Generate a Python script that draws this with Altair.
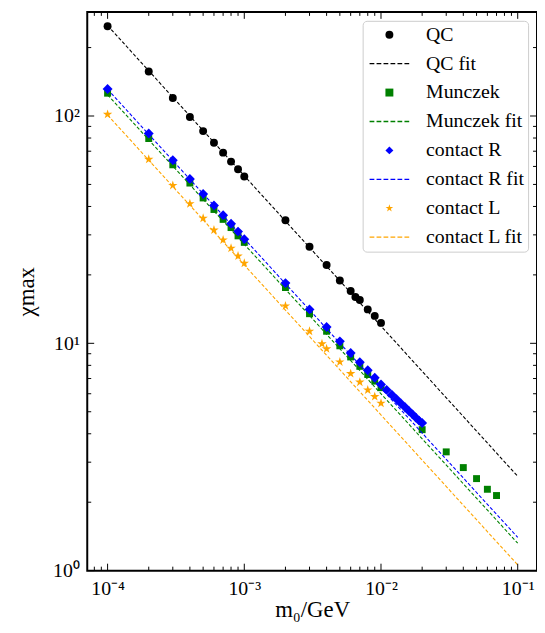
import altair as alt
import pandas as pd

# ---------------- data ----------------
qc_x = [1e-4, 2e-4, 3e-4, 4e-4, 5e-4, 6e-4, 7e-4, 8e-4, 9e-4, 1e-3,
        2e-3, 3e-3, 4e-3, 5e-3, 6e-3, 6.5e-3, 7e-3, 8e-3, 9e-3, 1e-2]
qc_y = [248, 157, 120, 99, 85.8, 76.2, 69, 63, 58.3, 54.2,
        34.8, 26.6, 22.1, 18.9, 17.0, 16.0, 15.5, 14.1, 13.2, 12.3]

mu_x = [1e-4, 2e-4, 3e-4, 4e-4, 5e-4, 6e-4, 7e-4, 8e-4, 9e-4, 1e-3,
        2e-3, 3e-3, 4e-3, 5e-3, 6e-3, 7e-3, 8e-3, 9e-3, 1e-2,
        2e-2, 3e-2, 4e-2, 5e-2, 6e-2, 7e-2]
mu_y = [126, 79.6, 61, 50.7, 43.6, 38.8, 35.1, 32.3, 29.7, 27.8,
        17.6, 13.5, 11.3, 9.75, 8.71, 7.92, 7.29, 6.82, 6.38,
        4.17, 3.33, 2.84, 2.54, 2.28, 2.14]

cr_x = [1e-4, 2e-4, 3e-4, 4e-4, 5e-4, 6e-4, 7e-4, 8e-4, 9e-4, 1e-3,
        2e-3, 3e-3, 4e-3, 5e-3, 6e-3, 7e-3, 8e-3, 9e-3, 1e-2,
        1.1e-2, 1.2e-2, 1.3e-2, 1.4e-2, 1.5e-2, 1.6e-2, 1.7e-2, 1.8e-2, 1.9e-2, 2e-2]
cr_y = [131.5, 83.7, 63.9, 52.8, 45.4, 40.4, 36.6, 33.6, 31.0, 28.7,
        18.4, 14.1, 11.8, 10.2, 9.06, 8.25, 7.61, 7.05, 6.59,
        6.24, 5.94, 5.68, 5.44, 5.23, 5.04, 4.87, 4.71, 4.57, 4.46]

cl_x = [1e-4, 2e-4, 3e-4, 4e-4, 5e-4, 6e-4, 7e-4, 8e-4, 9e-4, 1e-3,
        2e-3, 3e-3, 3.7e-3, 4e-3, 5e-3, 6e-3, 7e-3, 8e-3, 9e-3, 1e-2]
cl_y = [101.7, 64.5, 49.5, 41.1, 35.5, 31.5, 28.5, 26.2, 24.2, 22.5,
        14.6, 11.3, 9.95, 9.46, 8.28, 7.36, 6.75, 6.23, 5.83, 5.45]

# fitted straight lines (log-log), end points
fit_x = [1e-4, 1e-1]
qc_fit_y = [250, 2.6]
mu_fit_y = [124, 1.32]
cr_fit_y = [131, 1.40]
cl_fit_y = [101, 1.06]

series_order = ["QC", "QC fit", "Munczek", "Munczek fit",
                "contact R", "contact R fit", "contact L", "contact L fit"]
colors = ["#000000", "#000000", "#008000", "#008000",
          "#0000ff", "#0000ff", "#ffa500", "#ffa500"]

major_x = [1e-4, 1e-3, 1e-2, 1e-1]
minor_x = [8e-5, 9e-5, 2e-4, 3e-4, 4e-4, 5e-4, 6e-4, 7e-4, 8e-4, 9e-4,
           2e-3, 3e-3, 4e-3, 5e-3, 6e-3, 7e-3, 8e-3, 9e-3,
           2e-2, 3e-2, 4e-2, 5e-2, 6e-2, 7e-2, 8e-2, 9e-2]
major_y = [1, 10, 100]
minor_y = [2, 3, 4, 5, 6, 7, 8, 9, 20, 30, 40, 50, 60, 70, 80, 90, 200]

# ---------------- tables ----------------
qc_df = pd.DataFrame({"m0": qc_x, "chi": qc_y, "series": "QC"})
mu_df = pd.DataFrame({"m0": mu_x, "chi": mu_y, "series": "Munczek"})
cr_df = pd.DataFrame({"m0": cr_x, "chi": cr_y, "series": "contact R"})
cl_df = pd.DataFrame({"m0": cl_x, "chi": cl_y, "series": "contact L"})

fits = pd.concat([
    pd.DataFrame({"m0": fit_x, "chi": qc_fit_y, "series": "QC fit"}),
    pd.DataFrame({"m0": fit_x, "chi": mu_fit_y, "series": "Munczek fit"}),
    pd.DataFrame({"m0": fit_x, "chi": cr_fit_y, "series": "contact R fit"}),
    pd.DataFrame({"m0": fit_x, "chi": cl_fit_y, "series": "contact L fit"}),
], ignore_index=True)

xmaj = pd.DataFrame({"v": major_x})
xmin = pd.DataFrame({"v": minor_x})
ymaj = pd.DataFrame({"v": major_y})
ymin = pd.DataFrame({"v": minor_y})

W, H = 454, 564
FONT = "Liberation Serif"
# legend sample of a dashed line, drawn as six thin filled bars
DASH = ("M-5,-0.17H-3.8V0.17H-5Z M-3.24,-0.17H-2.04V0.17H-3.24Z "
        "M-1.48,-0.17H-0.28V0.17H-1.48Z M0.28,-0.17H1.48V0.17H0.28Z "
        "M2.04,-0.17H3.24V0.17H2.04Z M3.8,-0.17H5V0.17H3.8Z")
STAR = ("M0,-1L0.2245,-0.309L0.951,-0.309L0.363,0.118L0.588,0.809L0,0.382"
        "L-0.588,0.809L-0.363,0.118L-0.951,-0.309L-0.2245,-0.309Z")
shapes = ["circle", DASH, "square", DASH, "diamond", DASH, STAR, DASH]

xscale = alt.Scale(type="log", domain=[7.1e-5, 0.1384], nice=False)
yscale = alt.Scale(type="log", domain=[1, 287], nice=False)

label_expr = ("'10' + (datum.value < 1 ? '⁻' : '') + "
              "['⁰','¹','²','³','⁴','⁵','⁶','⁷','⁸','⁹'][abs(round(log(datum.value)/LN10))]")

x_axis = alt.Axis(orient="bottom", values=major_x, ticks=False, domain=False,
                  grid=False, labelExpr=label_expr, labelFont=FONT,
                  labelFontSize=20, labelColor="black", labelPadding=8,
                  labelFlush=False,
                  title="m₀/GeV", titleFont=FONT, titleFontSize=23,
                  titleFontWeight="normal", titleColor="black", titlePadding=0)
y_axis = alt.Axis(orient="left", values=major_y, ticks=False, domain=False,
                  grid=False, labelExpr=label_expr, labelFont=FONT,
                  labelFontSize=20, labelColor="black", labelPadding=8,
                  labelFlush=False,
                  title="χmax", titleFont=FONT, titleFontSize=23,
                  titleFontWeight="normal", titleColor="black", titlePadding=14)

legend = alt.Legend(title=None, orient="top-right", offset=9, padding=4,
                    symbolOffset=13, labelOffset=27, rowPadding=9.2,
                    labelAlign="left",
                    labelFont=FONT, labelFontSize=20, labelColor="black",
                    labelLimit=300, strokeColor="#cccccc", cornerRadius=4,
                    fillColor="white", symbolStrokeWidth=0, symbolSize=64)

color_scale = alt.Scale(domain=series_order, range=colors)
shape_scale = alt.Scale(domain=series_order, range=shapes)


def pts_layer(df, size):
    return alt.Chart(df).mark_point(filled=True, opacity=1, size=size).encode(
        x=alt.X("m0:Q", scale=xscale, axis=x_axis),
        y=alt.Y("chi:Q", scale=yscale, axis=y_axis),
        color=alt.Color("series:N", scale=color_scale, legend=legend),
        shape=alt.Shape("series:N", scale=shape_scale, legend=legend),
    )


lines = alt.Chart(fits).mark_line(strokeDash=[3.5, 2], strokeWidth=1.1).encode(
    x=alt.X("m0:Q", scale=xscale, axis=x_axis),
    y=alt.Y("chi:Q", scale=yscale, axis=y_axis),
    color=alt.Color("series:N", scale=color_scale, legend=legend),
    detail="series:N",
)


def xticks(df, y0, y1):
    return alt.Chart(df).mark_rule(color="black", strokeWidth=1).encode(
        x=alt.X("v:Q", scale=xscale, axis=x_axis),
        y=alt.value(y0), y2=alt.value(y1))


def yticks(df, x0, x1):
    return alt.Chart(df).mark_rule(color="black", strokeWidth=1).encode(
        y=alt.Y("v:Q", scale=yscale, axis=y_axis),
        x=alt.value(x0), x2=alt.value(x1))


tick_layers = [
    xticks(xmaj, H, H - 7), xticks(xmin, H, H - 4),
    xticks(xmaj, 0, 7), xticks(xmin, 0, 4),
    yticks(ymaj, 0, 7), yticks(ymin, 0, 4),
    yticks(ymaj, W, W - 7), yticks(ymin, W, W - 4),
]

chart = alt.layer(
    pts_layer(qc_df, 64),
    pts_layer(mu_df, 49),
    pts_layer(cr_df, 100),
    pts_layer(cl_df, 100),
    lines,
    *tick_layers,
).properties(
    width=W, height=H,
    padding={"left": 80, "top": 1, "right": 0, "bottom": 60},
    autosize=alt.AutoSizeParams(type="none"),
).configure_view(stroke="black", strokeWidth=2)

chart.save("out.html", embed_options={"renderer": "svg", "actions": False})
